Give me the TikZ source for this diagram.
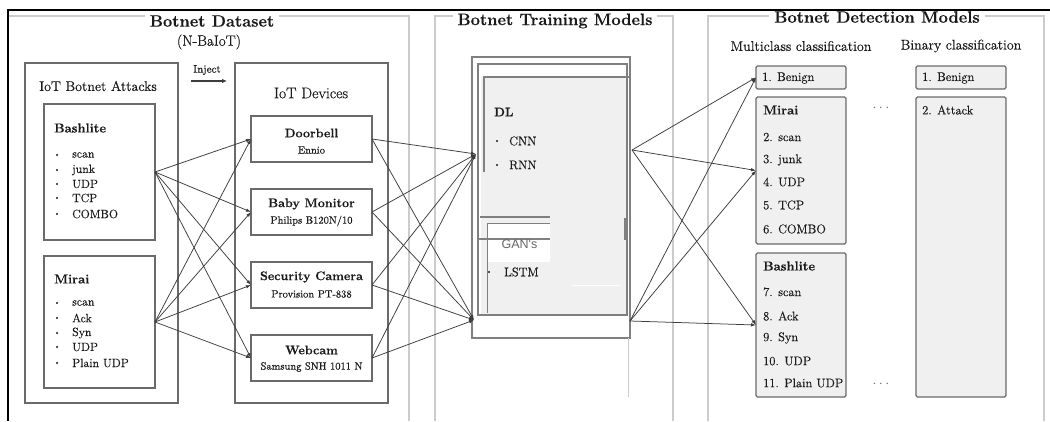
\documentclass[tikz,border=0pt]{standalone}
\usepackage{fontspec}
\setmainfont{Latin Modern Roman}[FakeBold=0.35]
\newfontfamily\gansf{Liberation Sans}
\usetikzlibrary{arrows.meta}
\definecolor{panelgray}{HTML}{CCCCCC}
\definecolor{boxgray}{HTML}{6A6A6A}
\definecolor{fillgray}{HTML}{F0F0F0}
\definecolor{linegray}{HTML}{3C3C3C}
\definecolor{txt}{HTML}{1A1A1A}
\definecolor{trgray}{HTML}{808080}
\tikzset{
  panel/.style={draw=panelgray, line width=1.3pt},
  box/.style={draw=boxgray, line width=1.3pt, inner sep=0pt, outer sep=0pt, anchor=north west},
  dbox/.style={box, fill=fillgray, rounded corners=1.5pt},
  trbox/.style={draw=trgray, inner sep=0pt, outer sep=0pt, anchor=north west},
  conn/.style={draw=linegray, line width=0.75pt, -{Latex[length=5pt,width=3.5pt]}},
  ptitle/.style={font=\fontsize{16.5}{18}\selectfont\bfseries, text=txt, fill=white, inner xsep=5pt, inner ysep=1pt},
  lbl/.style={text=txt, inner sep=0pt, anchor=west},
  item/.style={lbl, font=\fontsize{12}{14}\selectfont},
  hdr/.style={lbl, font=\fontsize{13}{15}\selectfont\bfseries},
  ditem/.style={lbl, font=\fontsize{12.5}{14}\selectfont},
  dot/.style={circle, fill=txt, inner sep=0pt, minimum size=2.4pt},
  devt/.style={text=txt, inner sep=0pt, font=\fontsize{12.5}{14}\selectfont\bfseries},
  devs/.style={text=txt, inner sep=0pt, font=\fontsize{10.5}{12}\selectfont},
  sub/.style={text=txt, inner sep=0pt, font=\fontsize{14}{16}\selectfont},
  ell/.style={text=black!55, inner sep=0pt, font=\fontsize{15}{16}\selectfont}
}
\begin{document}
\begin{tikzpicture}[x=1pt,y=-1pt]
\useasboundingbox[fill=white] (0,0) rectangle (1050,421);

% panels
\draw[panel] (8,16) -- (409,16) -- (409,421);
\draw[panel] (435,421) -- (435,16) -- (673,16) -- (673,421);
\draw[panel] (708,421) -- (708,16) -- (1044,16) -- (1044,421);
\node[ptitle] (t1) at (212,21) {Botnet Dataset};
\node[ptitle] (t2) at (555,21) {Botnet Training Models};
\node[ptitle] (t3) at (877,17) {Botnet Detection Models};
\node[sub, font=\fontsize{15}{17}\selectfont] (nbaiot) at (209,42) {(N-BaIoT)};

% ---------- dataset ----------
\node[box, minimum width=153pt, minimum height=340pt] (attacks) at (25,63) {};
\node[sub, font=\fontsize{14}{16}\selectfont] (attT) at (98,86) {IoT Botnet Attacks};
\node[box, minimum width=111pt, minimum height=136pt] (bash) at (44,104) {};
\node[hdr] (bashT) at (54,128) {Bashlite};
\foreach \t/\y [count=\i] in {scan/155, junk/170, UDP/184, TCP/198, COMBO/214}{
  \node[dot] (bd\i) at (57,\y) {};
  \node[item] (bi\i) at (72,\y) {\t};
}
\node[box, minimum width=111pt, minimum height=132pt] (mirai) at (44,256) {};
\node[hdr] (miraiT) at (54,279) {Mirai};
\foreach \t/\y [count=\i] in {scan/303, Ack/318, Syn/333, UDP/347, Plain UDP/363}{
  \node[dot] (md\i) at (57,\y) {};
  \node[item] (mi\i) at (72,\y) {\t};
}

\node[sub, font=\fontsize{11}{13}\selectfont] (inj) at (207,70) {Inject};
\coordinate (injA) at (191,81);
\coordinate (injB) at (227,81);
\draw[conn, line width=1.3pt, -{Latex[length=5pt,width=4.5pt]}] (injA) -- (injB);

\node[box, minimum width=153pt, minimum height=340pt] (devices) at (235,63) {};
\node[sub, font=\fontsize{15.5}{17}\selectfont] (devT) at (311,93) {IoT Devices};

\node[box, minimum width=121pt, minimum height=46pt] (door) at (251,116) {};
\node[devt] (doorT) at (311.5,133) {Doorbell};
\node[devs] (doorS) at (311.5,150) {Ennio};
\node[box, minimum width=121pt, minimum height=46pt] (baby) at (251,189) {};
\node[devt] (babyT) at (311.5,204) {Baby Monitor};
\node[devs] (babyS) at (311.5,221) {Philips B120N/10};
\node[box, minimum width=121pt, minimum height=46pt] (sec) at (251,262) {};
\node[devt] (secT) at (311.5,277) {Security Camera};
\node[devs] (secS) at (311.5,294) {Provision PT-838};
\node[box, minimum width=121pt, minimum height=46pt] (web) at (251,335) {};
\node[devt] (webT) at (311.5,350) {Webcam};
\node[devs] (webS) at (311.5,367) {Samsung SNH 1011 N};

\foreach \s in {bash, mirai}{
  \foreach \d in {door, baby, sec, web}{
    \draw[conn] (\s.east) -- (\d.west);
  }
}

% ---------- training ----------
\node[trbox, line width=1.6pt, minimum width=158pt, minimum height=281pt] (trOuter) at (472,57) {};
\fill[fillgray] (481,77) rectangle (626,314);
\node[trbox, line width=2pt, minimum width=149pt, minimum height=251pt] (trInner) at (478,64) {};
\draw[trgray, line width=1.6pt] (484,172) -- (484,77) -- (629,77);
\draw[trgray, line width=1.6pt] (480,217) -- (550,217);
\fill[white] (487,223) rectangle (550,262);
\draw[trgray, line width=0.6pt] (550,223) -- (487,223) -- (487,313);
\draw[trgray, line width=1.6pt] (478,239) -- (550,239);
\draw[trgray, line width=1.2pt] (478,203) -- (478,240);
\draw[trgray, line width=1.2pt] (625,218) -- (625,240);
\draw[white, line width=1pt] (572,285) -- (620,285);
\draw[panelgray, line width=0.8pt] (628,338) -- (628,397);

\node[hdr, font=\fontsize{12.5}{14}\selectfont\bfseries] (dl) at (494,112) {DL};
\node[dot] (cd1) at (497,141) {};
\node[ditem] (cnn) at (509,141) {CNN};
\node[dot] (cd2) at (497,165) {};
\node[ditem] (rnn) at (509,165) {RNN};
\node[inner sep=0pt, text=black!60, font=\gansf\fontsize{12.5}{14}\selectfont] (gan) at (519.5,244) {GAN's};
\node[dot] (ld1) at (489,272) {};
\node[ditem] (lstm) at (504,272) {LSTM};

\coordinate (tinU) at (476,154);
\coordinate (tinL) at (474,320);
\coordinate (toutU) at (632,150);
\coordinate (toutL) at (630,321);

\foreach \d in {door, baby, sec, web}{
  \draw[conn] (\d.east) -- (tinU);
  \draw[conn] (\d.east) -- (tinL);
}

% ---------- detection ----------
\node[sub] (multi) at (801,46) {Multiclass classification};
\node[sub] (binary) at (961,46) {Binary classification};

\node[dbox, minimum width=90pt, minimum height=23pt] (benign) at (756,66) {};
\node[ditem] (benignT) at (762,78) {1. Benign};
\node[dbox, minimum width=90pt, minimum height=147pt] (mirai2) at (756,97) {};
\node[hdr] (mirai2T) at (763,110) {Mirai};
\foreach \t/\y [count=\i] in {2. scan/137, 3. junk/160, 4. UDP/182, 5. TCP/205, 6. COMBO/229}{
  \node[ditem] (mm\i) at (763,\y) {\t};
}
\node[dbox, minimum width=90pt, minimum height=144pt] (bash2) at (756,253) {};
\node[hdr] (bash2T) at (763,266) {Bashlite};
\foreach \t/\y [count=\i] in {7. scan/292, 8. Ack/316, 9. Syn/338, 10. UDP/361, 11. Plain UDP/383}{
  \node[ditem] (bb\i) at (763,\y) {\t};
}
\node[dbox, minimum width=90pt, minimum height=23pt] (binBenign) at (916,66) {};
\node[ditem] (binBenignT) at (922,78) {1. Benign};
\node[dbox, minimum width=90pt, minimum height=300pt] (attack) at (916,97) {};
\node[ditem] (attackT) at (922,110) {2. Attack};
\node[ell] (dots1) at (881,108) {$\cdots$};
\node[ell] (dots2) at (881,384) {$\cdots$};

\foreach \d in {benign, mirai2, bash2}{
  \draw[conn] (toutU) -- (\d.west);
  \draw[conn] (toutL) -- (\d.west);
}

% outer frame
\fill[white] (0,0) rectangle (1050,9.4);
\draw[black, line width=1.3pt] (8,421) -- (8,10) -- (1050,10);
\end{tikzpicture}
\end{document}
